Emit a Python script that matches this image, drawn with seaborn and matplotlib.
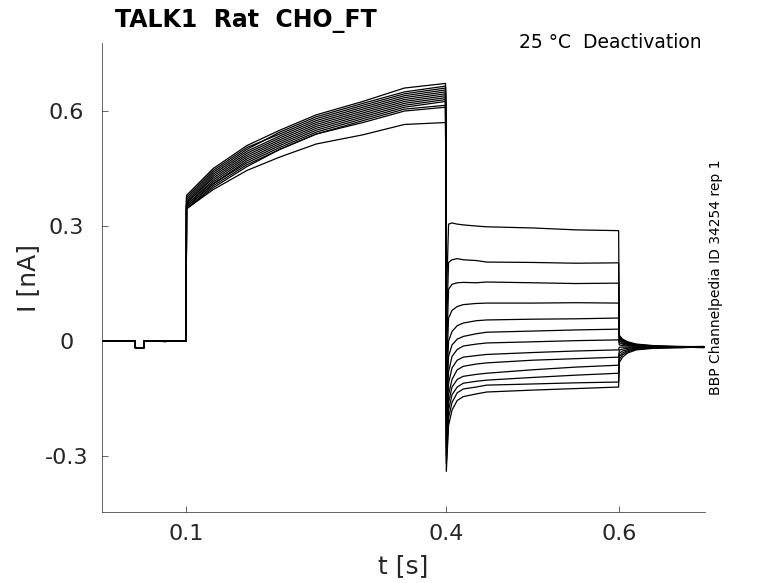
import pandas as pd
import matplotlib
matplotlib.use('Agg')
import matplotlib.pyplot as plt
import seaborn as sns

# holding period, same for every sweep (t in s, I in nA)
t_hold = [0.0, 0.02, 0.0408, 0.0412, 0.0508, 0.0512, 0.075, 0.0998]
i_hold = [0.0, 0.001, 0.0, -0.018, -0.018, 0.0, -0.001, 0.0]

# activating step 0.1 - 0.4 s
t_act = [0.1002, 0.131, 0.17, 0.208, 0.25, 0.304, 0.352, 0.3995]
act_sweeps = [
    [0.345, 0.395, 0.445, 0.48, 0.514, 0.538, 0.565, 0.57],
    [0.38, 0.45, 0.51, 0.55, 0.59, 0.625, 0.66, 0.672],
    [0.37, 0.44, 0.50, 0.545, 0.585, 0.62, 0.65, 0.665],
    [0.375, 0.445, 0.505, 0.54, 0.58, 0.615, 0.645, 0.66],
    [0.365, 0.435, 0.495, 0.535, 0.575, 0.61, 0.64, 0.655],
    [0.36, 0.43, 0.49, 0.53, 0.57, 0.605, 0.635, 0.65],
    [0.36, 0.425, 0.485, 0.525, 0.565, 0.60, 0.63, 0.645],
    [0.355, 0.42, 0.48, 0.52, 0.56, 0.595, 0.625, 0.64],
    [0.355, 0.415, 0.475, 0.515, 0.555, 0.59, 0.62, 0.635],
    [0.35, 0.41, 0.47, 0.51, 0.55, 0.585, 0.615, 0.63],
    [0.35, 0.41, 0.465, 0.505, 0.545, 0.58, 0.61, 0.625],
    [0.345, 0.405, 0.46, 0.50, 0.54, 0.575, 0.605, 0.615],
    [0.345, 0.40, 0.455, 0.50, 0.54, 0.57, 0.60, 0.61],
]

# deactivation tails 0.4 - 0.6 s
t_tail = [0.4004, 0.403, 0.407, 0.413, 0.42, 0.435, 0.447, 0.5, 0.55, 0.5995]
tail_sweeps = [
    [0.10, 0.305, 0.308, 0.305, 0.303, 0.30, 0.298, 0.295, 0.29, 0.288],
    [0.02, 0.205, 0.212, 0.215, 0.212, 0.21, 0.206, 0.205, 0.203, 0.204],
    [-0.05, 0.135, 0.148, 0.152, 0.153, 0.152, 0.154, 0.152, 0.150, 0.151],
    [-0.10, 0.06, 0.08, 0.09, 0.095, 0.098, 0.099, 0.099, 0.10, 0.099],
    [-0.14, 0.0, 0.025, 0.04, 0.047, 0.053, 0.055, 0.057, 0.058, 0.060],
    [-0.17, -0.04, -0.01, 0.005, 0.012, 0.019, 0.023, 0.026, 0.029, 0.031],
    [-0.20, -0.08, -0.04, -0.022, -0.013, -0.008, -0.005, -0.002, 0.001, 0.003],
    [-0.23, -0.11, -0.07, -0.05, -0.042, -0.038, -0.035, -0.03, -0.026, -0.023],
    [-0.26, -0.14, -0.10, -0.075, -0.066, -0.06, -0.057, -0.05, -0.046, -0.042],
    [-0.28, -0.16, -0.12, -0.10, -0.092, -0.087, -0.084, -0.075, -0.068, -0.063],
    [-0.30, -0.18, -0.14, -0.12, -0.11, -0.105, -0.102, -0.095, -0.089, -0.084],
    [-0.32, -0.20, -0.16, -0.135, -0.125, -0.12, -0.115, -0.112, -0.109, -0.107],
    [-0.34, -0.22, -0.18, -0.155, -0.145, -0.138, -0.133, -0.128, -0.124, -0.120],
]

# back to holding after 0.6 s
t_post = [0.6003, 0.604, 0.61, 0.62, 0.64, 0.67, 0.698]
post_sweeps = [
    [0.015, 0.005, -0.002, -0.008, -0.012, -0.014, -0.015],
    [0.012, 0.003, -0.004, -0.009, -0.013, -0.015, -0.014],
    [0.01, 0.0, -0.005, -0.01, -0.013, -0.016, -0.015],
    [0.006, -0.002, -0.007, -0.011, -0.014, -0.015, -0.016],
    [0.002, -0.005, -0.009, -0.012, -0.015, -0.016, -0.015],
    [-0.004, -0.008, -0.011, -0.013, -0.015, -0.015, -0.016],
    [-0.01, -0.012, -0.013, -0.014, -0.016, -0.016, -0.015],
    [-0.016, -0.016, -0.016, -0.016, -0.016, -0.015, -0.016],
    [-0.024, -0.021, -0.019, -0.017, -0.016, -0.017, -0.016],
    [-0.032, -0.026, -0.022, -0.019, -0.017, -0.016, -0.017],
    [-0.04, -0.031, -0.025, -0.020, -0.018, -0.017, -0.016],
    [-0.048, -0.036, -0.028, -0.021, -0.018, -0.016, -0.017],
    [-0.056, -0.042, -0.031, -0.023, -0.019, -0.017, -0.016],
]

x_ticks = [0.1, 0.4, 0.6]
x_ticklabels = ['0.1', '0.4', '0.6']
y_ticks = [-0.3, 0, 0.3, 0.6]
y_ticklabels = ['-0.3', '0', '0.3', '0.6']

frames = []
for k in range(len(tail_sweeps)):
    frames.append(pd.DataFrame({
        't': t_hold + t_act + t_tail + t_post,
        'I': i_hold + act_sweeps[k] + tail_sweeps[k] + post_sweeps[k],
        'sweep': k,
    }))
df = pd.concat(frames, ignore_index=True)

sns.set_theme(style='white')
plt.rcParams['font.family'] = ['DejaVu Sans']

W, H = 778, 583
fig = plt.figure(figsize=(W / 100, H / 100), dpi=100)
ax = fig.add_axes([101.7 / W, 1 - 512 / H, (705 - 101.7) / W, (512 - 43) / H])

sns.lineplot(data=df, x='t', y='I', units='sweep', estimator=None, sort=False,
             color='black', linewidth=0.9, legend=False, ax=ax)

ax.set_xlim(0.0022, 0.6993)
ax.set_ylim(-0.446, 0.7775)
ax.set_xticks(x_ticks)
ax.set_xticklabels(x_ticklabels)
ax.set_yticks(y_ticks)
ax.set_yticklabels(y_ticklabels)
for lab in ax.get_yticklabels():
    lab.set_horizontalalignment('center')

axis_col = '#262626'
for side in ['top', 'right']:
    ax.spines[side].set_visible(False)
for side in ['left', 'bottom']:
    ax.spines[side].set_color(axis_col)
    ax.spines[side].set_linewidth(0.5)
ax.tick_params(axis='both', direction='in', length=4.3, width=0.5,
               color=axis_col, labelcolor=axis_col, labelsize=16,
               bottom=True, left=True)
ax.tick_params(axis='x', pad=8.7)
ax.tick_params(axis='y', pad=25.5)

ax.set_xlabel('t [s]', fontsize=18, color=axis_col)
ax.set_ylabel('I [nA]', fontsize=18, color=axis_col)
ax.xaxis.set_label_coords(0.5, -0.09)
ax.yaxis.set_label_coords(-0.102, 0.5)

fig.text(115 / W, 1 - 26.7 / H, 'TALK1  Rat  CHO_FT', fontsize=17,
         fontweight='bold', ha='left', va='baseline', color='black')
fig.text(702 / W, 1 - 47.7 / H, '25 °C  Deactivation', fontsize=13.5,
         ha='right', va='baseline', color='black')
fig.text(716 / W, 1 - 277.5 / H, 'BBP Channelpedia ID 34254 rep 1',
         fontsize=10, rotation=90, ha='center', va='center', color='black')

fig.savefig('out.png', dpi=100)
